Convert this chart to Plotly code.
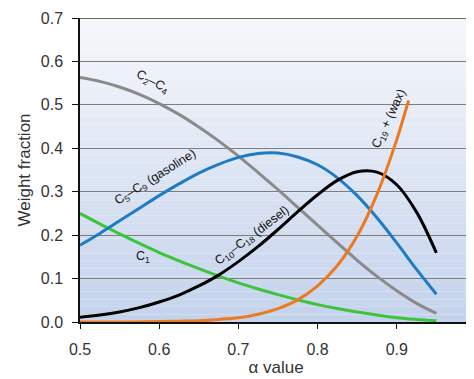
import plotly.graph_objects as go

# alpha values (x)
alpha = [0.50, 0.525, 0.55, 0.575, 0.60, 0.625, 0.65, 0.675, 0.70, 0.725,
         0.75, 0.775, 0.80, 0.825, 0.85, 0.875, 0.90, 0.925, 0.95]

c1 = [0.250, 0.226, 0.203, 0.181, 0.160, 0.141, 0.123, 0.106, 0.090, 0.076,
      0.063, 0.051, 0.040, 0.031, 0.023, 0.016, 0.010, 0.006, 0.003]
c2_c4 = [0.563, 0.554, 0.541, 0.524, 0.503, 0.478, 0.449, 0.417, 0.382, 0.344,
         0.305, 0.264, 0.223, 0.182, 0.142, 0.105, 0.072, 0.043, 0.020]
c5_c9 = [0.177, 0.204, 0.233, 0.262, 0.291, 0.318, 0.343, 0.363, 0.379, 0.388,
         0.389, 0.380, 0.362, 0.332, 0.291, 0.240, 0.182, 0.121, 0.064]
c10_c18 = [0.011, 0.016, 0.023, 0.033, 0.046, 0.062, 0.083, 0.108, 0.139, 0.174,
           0.213, 0.254, 0.293, 0.326, 0.346, 0.345, 0.316, 0.253, 0.159]

alpha_wax = [0.50, 0.55, 0.60, 0.625, 0.65, 0.675, 0.70, 0.725, 0.75, 0.775,
             0.80, 0.825, 0.85, 0.875, 0.90, 0.9125, 0.915]
c19_wax = [0.000, 0.000, 0.001, 0.002, 0.003, 0.006, 0.010, 0.018, 0.031, 0.051,
           0.083, 0.130, 0.198, 0.294, 0.420, 0.495, 0.510]

x_ticks = [0.5, 0.6, 0.7, 0.8, 0.9]
y_ticks = [0.0, 0.1, 0.2, 0.3, 0.4, 0.5, 0.6, 0.7]

FONT = "Liberation Sans, Arial, sans-serif"

fig = go.Figure()

series = [
    (alpha, c1, "C1", "#3cc43c"),
    (alpha, c2_c4, "C2-C4", "#8a8a8a"),
    (alpha, c5_c9, "C5-C9", "#1f7cc4"),
    (alpha, c10_c18, "C10-C18", "#000000"),
    (alpha_wax, c19_wax, "C19+", "#ec7a22"),
]
for xs, ys, name, col in series:
    fig.add_trace(go.Scatter(x=xs, y=ys, mode="lines", name=name,
                             line=dict(color=col, width=3, shape="spline", smoothing=1.0),
                             hoverinfo="skip"))

# background gradient (white-ish top to light blue bottom)
shapes = []
n = 40
top = (247, 248, 252)
bot = (196, 211, 236)
for i in range(n):
    t = (i + 0.5) / n
    r = int(top[0] + (bot[0] - top[0]) * t)
    g = int(top[1] + (bot[1] - top[1]) * t)
    b = int(top[2] + (bot[2] - top[2]) * t)
    shapes.append(dict(type="rect", xref="x domain", yref="y domain",
                       x0=0, x1=1, y0=1 - (i + 1) / n, y1=1 - i / n,
                       fillcolor=f"rgb({r},{g},{b})", line=dict(width=0),
                       layer="below"))
# darker top border line at 0.7
shapes.append(dict(type="line", xref="x domain", yref="y", x0=0, x1=1, y0=0.7, y1=0.7,
                   line=dict(color="#6a6a6a", width=2)))

ann_font = dict(family=FONT, size=12.5, color="#111111")
annotations = [
    dict(x=0.591, y=0.553, text="C<sub>2</sub>–C<sub>4</sub>", textangle=28),
    dict(x=0.595, y=0.332, text="C<sub>5</sub>–C<sub>9</sub> (gasoline)", textangle=-32),
    dict(x=0.579, y=0.150, text="C<sub>1</sub>", textangle=0),
    dict(x=0.718, y=0.198, text="C<sub>10</sub>–C<sub>18</sub> (diesel)", textangle=-37),
    dict(x=0.891, y=0.467, text="C<sub>19</sub> + (wax)", textangle=-65),
]
for a in annotations:
    a.update(xref="x", yref="y", showarrow=False, font=ann_font)

tick_font = dict(family=FONT, size=16, color="#333333")
title_font = dict(family=FONT, size=17, color="#333333")

fig.update_layout(
    width=466, height=371,
    margin=dict(l=72, r=2, t=8, b=57),
    paper_bgcolor="white",
    plot_bgcolor="rgba(0,0,0,0)",
    showlegend=False,
    shapes=shapes,
    annotations=annotations,
    font=dict(family=FONT, size=13, color="#333333"),
    xaxis=dict(range=[0.5, 0.995], tickvals=x_ticks, ticktext=[f"{v:.1f}" for v in x_ticks],
               showgrid=False, zeroline=False, showline=True, linecolor="#111111", linewidth=1.5,
               ticks="outside", ticklen=5, tickcolor="#111111", ticklabelstandoff=7,
               tickfont=tick_font,
               title=dict(text="α value", font=title_font, standoff=1)),
    yaxis=dict(range=[0, 0.7], tickvals=y_ticks, ticktext=[f"{v:.1f}" for v in y_ticks],
               showgrid=True, gridcolor="#7d7d7d", gridwidth=1, zeroline=False,
               showline=True, linecolor="#111111", linewidth=1.5,
               ticks="outside", ticklen=6, tickcolor="#111111", ticklabelstandoff=6,
               ticklabeloverflow="allow",
               tickfont=tick_font,
               title=dict(text="Weight fraction", font=title_font, standoff=6)),
)

fig.write_html("out.html")
